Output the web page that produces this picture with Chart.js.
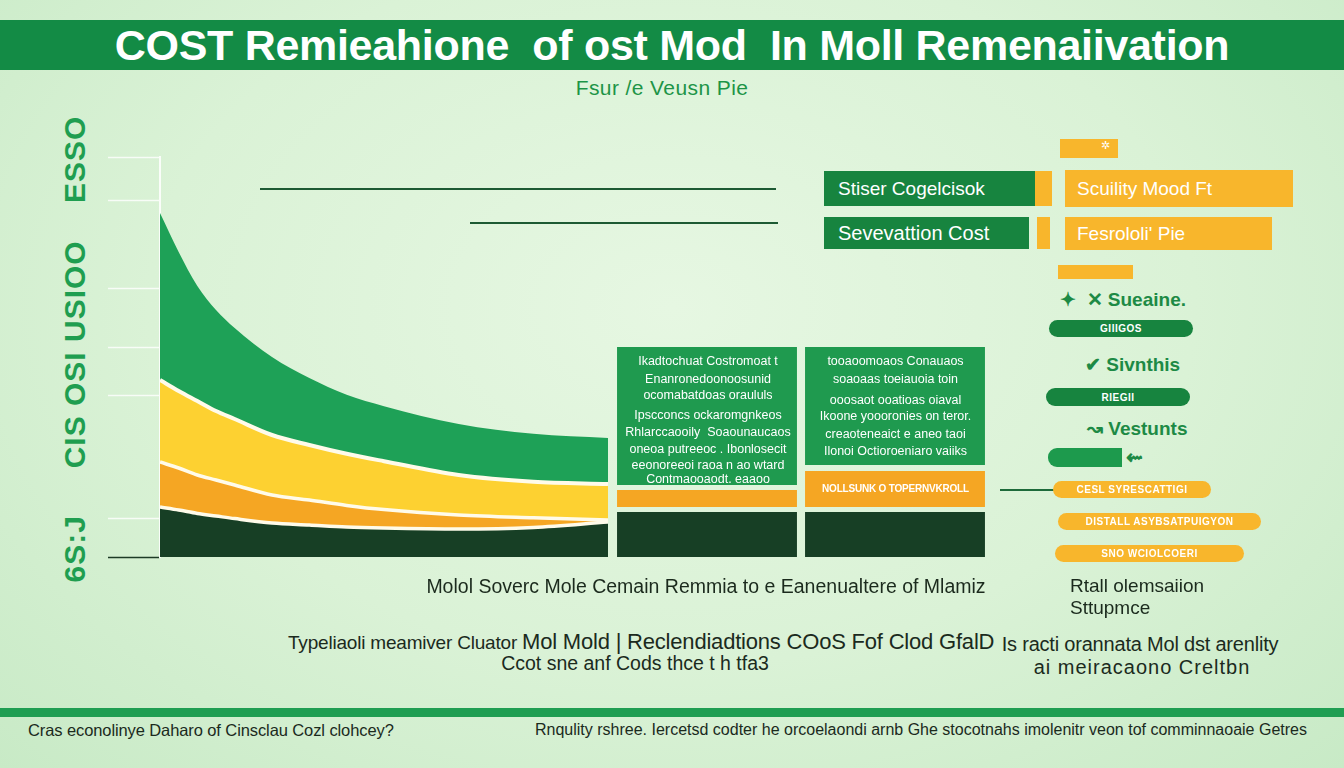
<!DOCTYPE html>
<html>
<head>
<meta charset="utf-8">
<script src="https://cdn.jsdelivr.net/npm/chart.js@4.4.1/dist/chart.umd.min.js"></script>
<style>
  html, body { margin: 0; padding: 0; }
  body {
    width: 1344px; height: 768px; overflow: hidden; position: relative;
    font-family: "Liberation Sans", Arial, sans-serif;
    background: radial-gradient(ellipse at 50% 40%, #e6f7e2 0%, #daf2d6 55%, #c8eac6 100%);
  }
  .abs { position: absolute; white-space: nowrap; }
  .banner { left: 0; top: 20px; width: 1344px; height: 50px; background: #138b45; }
  .title { left: 0; top: 20px; width: 1344px; height: 50px; line-height: 50px; text-align: center;
           color: #fff; font-weight: bold; font-size: 43px; letter-spacing: -0.3px; }
  .subtitle { left: 512px; width: 300px; top: 76px; text-align: center; color: #1d9447; font-size: 21px; letter-spacing: 0.4px; }
  .ytitle { left: 75px; top: 349px; color: #1f9e50; font-weight: bold; font-size: 30px;
            transform: translate(-50%, -50%) rotate(-90deg); letter-spacing: 1px; }
  .hline { background: #1d5a33; height: 2px; }
  .box { color: #fff; font-size: 19px; line-height: 1; padding-left: 14px; box-sizing: border-box; display: flex; align-items: center; }
  .g { background: #17843f; }
  .o { background: #f8b62c; }
  .pill { border-radius: 9px; color: #fff; font-size: 10px; font-weight: bold; text-align: center; display:flex; align-items:center; justify-content:center; letter-spacing: 0.5px; }
  .leg { color: #1d8a45; font-size: 19px; font-weight: bold; }
  .cell { color: #fff; font-size: 12.5px; text-align: center; line-height: 1; }
  .dark { color: #1b2a1d; }
</style>
</head>
<body>
<div class="abs banner"></div>
<div class="abs title">COST Remieahione&nbsp; of ost Mod&nbsp; In Moll Remenaiivation</div>
<div class="abs subtitle">Fsur /e Veusn Pie</div>
<div class="abs ytitle">6S:J&nbsp;&nbsp;&nbsp;&nbsp; CIS OSI USIOO&nbsp;&nbsp;&nbsp; ESSO</div>

<div class="abs hline" style="left:260px; top:188px; width:516px;"></div>
<div class="abs hline" style="left:470px; top:222px; width:308px;"></div>

<div class="abs" style="left:0; top:150px; width:612px; height:420px;"><canvas id="areaChart" width="612" height="420"></canvas></div>
<div class="abs" style="left:613px; top:150px; width:376px; height:420px;"><canvas id="barChart" width="376" height="420"></canvas></div>

<!-- text inside the bar columns -->
<div class="abs cell" style="left:616px; width:184px; top:355px;">Ikadtochuat Costromoat t</div>
<div class="abs cell" style="left:616px; width:184px; top:373px;">Enanronedoonoosunid</div>
<div class="abs cell" style="left:616px; width:184px; top:389px;">ocomabatdoas oraululs</div>
<div class="abs cell" style="left:616px; width:184px; top:409px;">Ipscconcs ockaromgnkeos</div>
<div class="abs cell" style="left:616px; width:184px; top:426px;">Rhlarccaooily&nbsp; Soaounaucaos</div>
<div class="abs cell" style="left:616px; width:184px; top:443px;">oneoa putreeoc . Ibonlosecit</div>
<div class="abs cell" style="left:616px; width:184px; top:459px;">eeonoreeoi raoa n ao wtard</div>
<div class="abs cell" style="left:616px; width:184px; top:473px;">Contmaooaodt. eaaoo</div>

<div class="abs cell" style="left:808px; width:175px; top:355px;">tooaoomoaos Conauaos</div>
<div class="abs cell" style="left:808px; width:175px; top:373px;">soaoaas toeiauoia toin</div>
<div class="abs cell" style="left:808px; width:175px; top:394px;">ooosaot ooatioas oiaval</div>
<div class="abs cell" style="left:808px; width:175px; top:410px;">Ikoone yoooronies on teror.</div>
<div class="abs cell" style="left:808px; width:175px; top:428px;">creaoteneaict e aneo taoi</div>
<div class="abs cell" style="left:808px; width:175px; top:445px;">Ilonoi Octioroeniaro vaiiks</div>
<div class="abs cell" style="left:808px; width:175px; top:484px; font-weight:bold; font-size:10px; letter-spacing:-0.2px;">NOLLSUNK O TOPERNVKROLL</div>

<!-- right legend -->
<div class="abs o" style="left:1060px; top:139px; width:58px; height:19px; color:#fff; font-size:11px; text-align:right; padding-right:8px; box-sizing:border-box;">✲</div>
<div class="abs box g" style="left:824px; top:171px; width:211px; height:35px;">Stiser Cogelcisok</div>
<div class="abs o" style="left:1035px; top:171px; width:17px; height:35px;"></div>
<div class="abs box o" style="left:1065px; top:170px; width:228px; height:37px; padding-left:12px;">Scuility Mood Ft</div>
<div class="abs box g" style="left:824px; top:217px; width:205px; height:32px; font-size:20px;">Sevevattion Cost</div>
<div class="abs o" style="left:1037px; top:217px; width:13px; height:32px;"></div>
<div class="abs box o" style="left:1065px; top:217px; width:207px; height:33px; padding-left:12px;">Fesrololi' Pie</div>
<div class="abs o" style="left:1058px; top:265px; width:75px; height:14px;"></div>

<div class="abs leg" style="left:1060px; top:288px;">✦ &nbsp;✕ Sueaine.</div>
<div class="abs pill" style="left:1049px; top:320px; width:144px; height:17px; background:#17843f;">GIIIGOS</div>
<div class="abs leg" style="left:1085px; top:353px;">✔ Sivnthis</div>
<div class="abs pill" style="left:1046px; top:388px; width:144px; height:18px; background:#17843f;">RIEGII</div>
<div class="abs leg" style="left:1087px; top:417px;">↝ Vestunts</div>
<div class="abs pill" style="left:1048px; top:448px; width:74px; height:19px; background:#1d9a4d; border-radius:9px 0 0 9px;"></div>
<div class="abs leg" style="left:1126px; top:445px; font-size:20px;">⇜</div>
<div class="abs" style="left:1000px; top:489px; width:54px; height:2px; background:#1d6a3a;"></div>
<div class="abs pill" style="left:1053px; top:481px; width:158px; height:17px; background:#f8b62c;">CESL SYRESCATTIGI</div>
<div class="abs pill" style="left:1058px; top:513px; width:203px; height:17px; background:#f8b62c;">DISTALL ASYBSATPUIGYON</div>
<div class="abs pill" style="left:1055px; top:545px; width:189px; height:17px; background:#f8b62c;">SNO WCIOLCOERI</div>
<div class="abs dark" style="left:1070px; top:575px; font-size:19px;">Rtall olemsaiion</div>
<div class="abs dark" style="left:1070px; top:597px; font-size:19px;">Sttupmce</div>

<!-- bottom notes -->
<div class="abs dark" style="left:356px; width:700px; text-align:center; top:575px; font-size:19.5px;">Molol Soverc Mole Cemain Remmia to e Eanenualtere of Mlamiz</div>
<div class="abs dark" style="left:288px; top:629px; font-size:19px; letter-spacing:-0.2px;">Typeliaoli meamiver Cluator <span style="font-size:22px;">Mol Mold | Reclendiadtions COoS Fof Clod GfalD</span></div>
<div class="abs dark" style="left:435px; width:400px; text-align:center; top:652px; font-size:19.5px;">Ccot sne anf Cods thce t h tfa3</div>
<div class="abs dark" style="left:990px; width:300px; text-align:center; top:633px; font-size:20px; letter-spacing:-0.2px;">Is racti orannata Mol dst arenlity</div>
<div class="abs dark" style="left:992px; width:300px; text-align:center; top:656px; font-size:20px; letter-spacing:1px;">ai meiracaono Creltbn</div>

<div class="abs" style="left:0; top:708px; width:1344px; height:9px; background:#1f9e52;"></div>
<div class="abs dark" style="left:28px; top:721px; font-size:16.5px; letter-spacing:-0.1px;">Cras econolinye Daharo of Cinsclau Cozl clohcey?</div>
<div class="abs dark" style="left:535px; top:721px; font-size:16px; letter-spacing:0px;">Rnqulity rshree. Iercetsd codter he orcoelaondi arnb Ghe stocotnahs imolenitr veon tof comminnaoaie Getres</div>

<script>
// ---- data ----
const xMonths   = [0, 0.5, 1, 1.5, 2, 3, 4, 5, 6, 8, 10, 12];
const baseCost      = [12.5, 11.75, 10.9, 10.25, 9.6, 8.5, 8, 7.5, 7.25, 7, 7.4, 8.75];
const materialCost  = [11.25, 10.5, 9.6, 9, 8.4, 7, 6.25, 5.4, 4.6, 3.5, 2.4, 0.5];
const laborCost     = [20.5, 19.25, 18.5, 17.25, 16.5, 15, 13.75, 12.9, 12.1, 10, 9, 9];
const remediationCost = [41.75, 34.75, 28.75, 25.25, 22.75, 19.5, 16.75, 14.75, 13.75, 12.75, 12, 11.5];

const barCategories = ['Option A', 'Option B'];
const barBase       = [[0, 11.25], [0, 11.25]];
const barMaterial   = [[12.5, 16.75], [12.5, 21.5]];
const barRemediation = [[18, 52.5], [23, 52.5]];

const yTickValues = [0, 9.75, 40.5, 52.5, 67.25, 89.25, 99.75];
const yMax = 100;

const toPoints = arr => arr.map((v, i) => ({ x: xMonths[i], y: v }));

const cDark = '#173f25', cOrange = '#f5a623', cYellow = '#fdd131', cGreen = '#1ea157';
const sep = '#fffbea';

new Chart(document.getElementById('areaChart'), {
  type: 'line',
  data: {
    datasets: [
      { label: 'Base', data: toPoints(baseCost), backgroundColor: cDark, borderColor: sep, borderWidth: 3.5, fill: 'origin' },
      { label: 'Material', data: toPoints(materialCost), backgroundColor: cOrange, borderColor: sep, borderWidth: 3.5, fill: '-1' },
      { label: 'Labor', data: toPoints(laborCost), backgroundColor: cYellow, borderColor: sep, borderWidth: 4, fill: '-1' },
      { label: 'Remediation', data: toPoints(remediationCost), backgroundColor: cGreen, borderColor: cGreen, borderWidth: 0, fill: '-1' }
    ]
  },
  options: {
    responsive: false, animation: false,
    layout: { padding: { top: 7, bottom: 13, left: 0, right: 4 } },
    elements: { point: { radius: 0 }, line: { cubicInterpolationMode: 'monotone', capBezierPoints: true } },
    plugins: { legend: { display: false }, tooltip: { enabled: false }, filler: { drawTime: 'beforeDatasetsDraw' } },
    scales: {
      x: { type: 'linear', min: 0, max: 12, display: false },
      y: {
        stacked: true, min: 0, max: yMax,
        afterFit: s => { s.width = 160; },
        afterBuildTicks: s => { s.ticks = yTickValues.map(v => ({ value: v })); },
        ticks: { display: false },
        grid: {
          drawOnChartArea: false, drawTicks: true, tickLength: 52, tickWidth: 1.5,
          tickColor: ctx => (ctx.tick && ctx.tick.value === 0) ? '#1d3b26' : 'rgba(255,255,255,0.8)'
        },
        border: { display: true, color: 'rgba(255,255,255,0.85)', width: 2 }
      }
    }
  }
});

new Chart(document.getElementById('barChart'), {
  type: 'bar',
  data: {
    labels: barCategories,
    datasets: [
      { label: 'Base', data: barBase, backgroundColor: cDark },
      { label: 'Material', data: barMaterial, backgroundColor: cOrange },
      { label: 'Remediation', data: barRemediation, backgroundColor: '#1f9a4f' }
    ]
  },
  options: {
    responsive: false, animation: false,
    layout: { padding: { top: 7, bottom: 13, left: 0, right: 0 } },
    datasets: { bar: { grouped: false, categoryPercentage: 1, barPercentage: 0.957, borderWidth: 0 } },
    plugins: { legend: { display: false }, tooltip: { enabled: false } },
    scales: {
      x: { display: false },
      y: { display: false, min: 0, max: yMax }
    }
  }
});
</script>
</body>
</html>
